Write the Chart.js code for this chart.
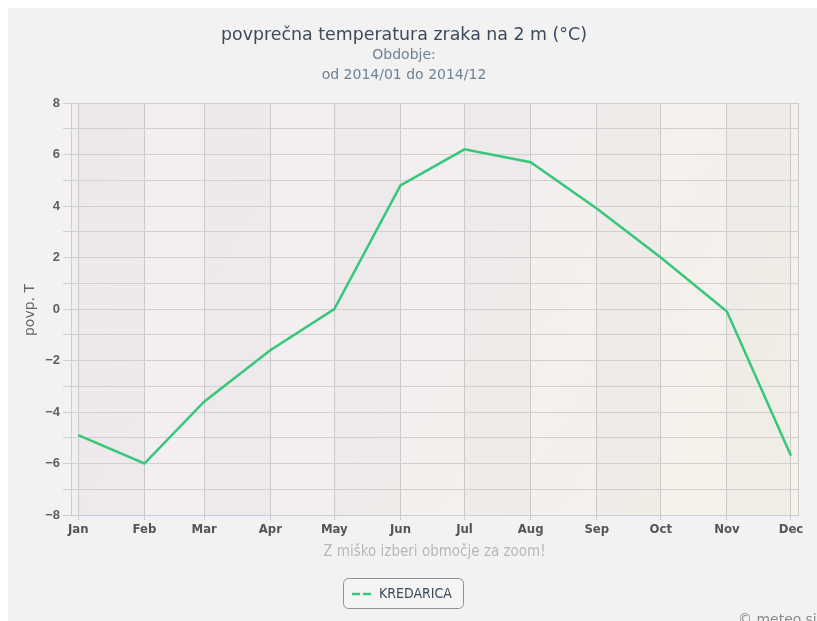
<!DOCTYPE html>
<html>
<head>
<meta charset="utf-8">
<script src="https://cdn.jsdelivr.net/npm/chart.js@4"></script>
<style>
  html, body { margin: 0; padding: 0; background: #ffffff; }
  #okvir { position: absolute; left: 8px; top: 8px; width: 809px; height: 613px; background: #f2f2f2; overflow: hidden; }
  canvas { display: block; }
</style>
</head>
<body>
<div id="okvir"><canvas id="graf" width="809" height="613"></canvas></div>
<script>
// podatki
const meseci = ['Jan', 'Feb', 'Mar', 'Apr', 'May', 'Jun', 'Jul', 'Aug', 'Sep', 'Oct', 'Nov', 'Dec'];
const dan = [0, 31, 59, 90, 120, 151, 181, 212, 243, 273, 304, 334]; // dan v letu 2014 (1. v mesecu)
const kredarica = [-4.9, -6.0, -3.6, -1.6, 0.0, 4.8, 6.2, 5.7, 3.9, 2.0, -0.1, -5.7];
const yOznake = [-8, -6, -4, -2, 0, 2, 4, 6, 8];

const naslov = 'povprečna temperatura zraka na 2 m (°C)';
const podnaslov = ['Obdobje:', 'od 2014/01 do 2014/12'];

const ozka = "'DejaVu Sans Condensed', 'Liberation Sans Narrow', 'Liberation Sans', sans-serif";
const zelena = '#36c77b';

// pasovi v ozadju + besedila
const okras = {
  id: 'okras',
  beforeDraw(chart) {
    const { ctx, chartArea: a, scales: { x } } = chart;
    ctx.save();
    const g = ctx.createLinearGradient(a.left, a.top, a.right, a.bottom);
    g.addColorStop(0, '#f3edf0');
    g.addColorStop(0.5, '#f3efef');
    g.addColorStop(1, '#f5f3ea');
    ctx.fillStyle = g;
    ctx.fillRect(a.left, a.top, a.right - a.left, a.bottom - a.top);
    // vsak drugi mesec temnejši
    const meje = [x.min].concat(dan).concat([x.max]);
    for (let i = 0; i < meje.length - 1; i++) {
      if (i % 2 === 1) {
        const x0 = x.getPixelForValue(meje[i]);
        const x1 = x.getPixelForValue(meje[i + 1]);
        ctx.fillStyle = 'rgba(60,60,70,0.028)';
        ctx.fillRect(x0, a.top, x1 - x0, a.bottom - a.top);
      }
    }
    ctx.restore();
  },
  beforeDatasetsDraw(chart) {
    const { ctx, chartArea: a } = chart;
    ctx.save();
    ctx.strokeStyle = '#cccccc';
    ctx.lineWidth = 1;
    ctx.beginPath();
    ctx.moveTo(Math.round(a.right) + 0.5, a.top);
    ctx.lineTo(Math.round(a.right) + 0.5, a.bottom);
    ctx.stroke();
    ctx.restore();
  },
  afterDraw(chart) {
    const { ctx, chartArea: a } = chart;
    ctx.save();
    ctx.textAlign = 'center';
    ctx.textBaseline = 'middle';

    ctx.fillStyle = '#3d4a5c';
    ctx.font = "17.4px 'DejaVu Sans', sans-serif";
    ctx.fillText(naslov, 396, 27);
    ctx.fillStyle = '#6d8297';
    ctx.font = "14px 'DejaVu Sans', sans-serif";
    ctx.fillText(podnaslov[0], 396, 47);
    ctx.fillText(podnaslov[1], 396, 67);

    // os y naslov
    ctx.save();
    ctx.translate(22, 302);
    ctx.rotate(-Math.PI / 2);
    ctx.fillStyle = '#666666';
    ctx.font = "14px 'DejaVu Sans', sans-serif";
    ctx.fillText('povp. T', 0, 0);
    ctx.restore();

    // namig pod osjo
    ctx.fillStyle = '#b8b8b8';
    ctx.font = '15px ' + ozka;
    ctx.fillText('Z miško izberi območje za zoom!', (a.left + a.right) / 2, 544);

    // legenda
    const lx = 335, ly = 570, lw = 120, lh = 30;
    ctx.beginPath();
    ctx.roundRect(lx + 0.5, ly + 0.5, lw, lh, 5);
    ctx.fillStyle = '#f4f4f4';
    ctx.fill();
    ctx.strokeStyle = '#909090';
    ctx.lineWidth = 1;
    ctx.stroke();
    ctx.strokeStyle = zelena;
    ctx.lineWidth = 2.5;
    ctx.setLineDash([8, 3]);
    ctx.beginPath();
    ctx.moveTo(lx + 9, ly + 16);
    ctx.lineTo(lx + 29, ly + 16);
    ctx.stroke();
    ctx.setLineDash([]);
    ctx.textAlign = 'left';
    ctx.fillStyle = '#3d4a5c';
    ctx.font = '14px ' + ozka;
    ctx.fillText('KREDARICA', lx + 36, ly + 16);

    // copyright
    ctx.fillStyle = '#8a8a8a';
    ctx.font = "14px 'DejaVu Sans', sans-serif";
    ctx.fillText('© meteo.si', 730, 612);
    ctx.restore();
  }
};

const ctx = document.getElementById('graf').getContext('2d');
new Chart(ctx, {
  type: 'line',
  data: {
    datasets: [{
      label: 'KREDARICA',
      data: dan.map((d, i) => ({ x: d, y: kredarica[i] })),
      borderColor: zelena,
      borderWidth: 2.5,
      pointRadius: 0,
      tension: 0,
      fill: false
    }]
  },
  options: {
    responsive: false,
    animation: false,
    events: [],
    layout: { padding: { left: 0, top: 95, right: 19, bottom: 0 } },
    plugins: { legend: { display: false }, title: { display: false }, tooltip: { enabled: false } },
    scales: {
      x: {
        type: 'linear',
        min: -3.4,
        max: 337.3,
        afterBuildTicks: (s) => { s.ticks = dan.map(v => ({ value: v })); },
        afterFit: (s) => { s.height = 106; },
        ticks: {
          autoSkip: false,
          maxRotation: 0,
          padding: 2,
          color: '#555555',
          font: { family: ozka, size: 13, weight: 'bold' },
          callback: (v, i) => meseci[i]
        },
        grid: { color: '#c9c9c9', tickLength: 5, lineWidth: 1 },
        border: { color: '#c3d0df' }
      },
      y: {
        min: -8,
        max: 8,
        afterFit: (s) => { s.width = 63; },
        afterBuildTicks: (s) => {
          const t = [];
          for (let v = -8; v <= 8; v++) t.push({ value: v });
          s.ticks = t;
        },
        ticks: {
          padding: 3,
          color: '#606060',
          font: { family: "'Liberation Sans', sans-serif", size: 13, weight: 'bold' },
          callback: (v) => yOznake.includes(v) ? String(v).replace('-', '−') : ''
        },
        grid: { color: '#d0d0d0', tickLength: 8, lineWidth: 1 },
        border: { color: '#cccccc' }
      }
    }
  },
  plugins: [okras]
});
</script>
</body>
</html>
